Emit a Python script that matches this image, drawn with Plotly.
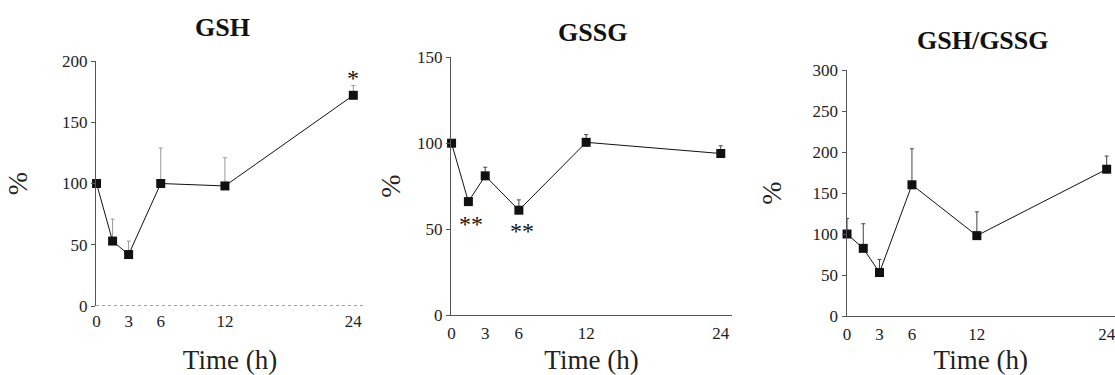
import plotly.graph_objects as go

time_h = [0, 1.5, 3, 6, 12, 24]
x_tick_labels = ["0", "3", "6", "12", "24"]
x_tick_vals = [0, 3, 6, 12, 24]

gsh = [100, 53, 42, 100, 98, 172]
gsh_err = [0, 18, 11, 29, 23, 8]
gssg = [100, 66, 81, 61, 100.5, 94]
gssg_err = [0, 2, 5, 6, 4.5, 4.5]
ratio = [100, 82.5, 53, 160, 98, 179]
ratio_err = [19, 30, 16, 44, 29, 16]

titles = ["GSH", "GSSG", "GSH/GSSG"]
y_ranges = [[0, 200], [0, 150], [0, 300]]
y_ticks = [[0, 50, 100, 150, 200], [0, 50, 100, 150], [0, 50, 100, 150, 200, 250, 300]]

# significance marks (x, y, text) per panel
sig_gsh = [(24, 186.5, "*")]
sig_gssg = [(1.7, 53, "**"), (6.3, 49, "**")]

W, H = 1115, 375
def px(x):
    return x / W
def py(y):
    return 1 - y / H

x_domains = [[px(96), px(364)], [px(451), px(732)], [px(846.5), 1.0]]
y_domains = [[py(306), py(61)], [py(315), py(57.3)], [py(316), py(70)]]
x_ranges = [[-0.05, 25], [-0.05, 25], [-0.05, 24.77]]
x_title_standoff = [20, 18, 14]
y_title_standoff = [26, 8, 22]

serif = "Liberation Serif, Times New Roman, serif"
fig = go.Figure()

series = [(gsh, gsh_err, "#999999"), (gssg, gssg_err, "#444444"), (ratio, ratio_err, "#444444")]
for i, (vals, errs, ecol) in enumerate(series):
    n = "" if i == 0 else str(i + 1)
    fig.add_trace(go.Scatter(
        x=time_h, y=vals, mode="lines+markers",
        xaxis="x" + n, yaxis="y" + n,
        line=dict(color="#111111", width=1),
        marker=dict(symbol="square", size=9, color="#111111"),
        error_y=dict(type="data", array=errs, symmetric=False,
                     arrayminus=[0] * len(errs), color=ecol, thickness=1, width=2),
        showlegend=False, cliponaxis=False,
    ))
    fig.layout["xaxis" + n] = dict(
        domain=x_domains[i], range=x_ranges[i], anchor="y" + n, automargin=False,
        tickvals=x_tick_vals, ticktext=x_tick_labels, ticks="",
        ticklabelstandoff=3, ticklabeloverflow="allow",
        showline=(i != 0), linecolor="#555555", linewidth=1,
        showgrid=False, zeroline=False,
        tickfont=dict(family=serif, size=17, color="#222222"),
        title=dict(text="Time (h)", font=dict(family=serif, size=27, color="#222222"),
                   standoff=x_title_standoff[i]),
    )
    fig.layout["yaxis" + n] = dict(
        domain=y_domains[i], range=y_ranges[i], anchor="x" + n, automargin=False,
        tickvals=y_ticks[i], ticks="outside", ticklen=4, tickcolor="#555555",
        showline=True, linecolor="#555555", linewidth=1,
        showgrid=False, zeroline=False,
        tickfont=dict(family=serif, size=17, color="#222222"),
        title=dict(text="%", font=dict(family=serif, size=28, color="#222222"),
                   standoff=y_title_standoff[i]),
    )

# dotted x-axis line for first panel
fig.add_shape(type="line", xref="x domain", yref="y", x0=0, x1=1, y0=0, y1=0,
              line=dict(color="#444444", width=1, dash="dot"))

title_pos = [(222, 28), (592, 32), (983, 40)]
for (tx, ty), t in zip(title_pos, titles):
    fig.add_annotation(text="<b>%s</b>" % t, x=px(tx), y=py(ty), xref="paper", yref="paper",
                       xanchor="center", yanchor="middle",
                       showarrow=False, font=dict(family=serif, size=26, color="#111111"))

for (sx, sy, st) in sig_gsh:
    fig.add_annotation(text=st, x=sx, y=sy, xref="x", yref="y", showarrow=False,
                       xanchor="center", yanchor="middle",
                       font=dict(family=serif, size=24, color="#111111"))
for (sx, sy, st) in sig_gssg:
    fig.add_annotation(text=st, x=sx, y=sy, xref="x2", yref="y2", showarrow=False,
                       xanchor="center", yanchor="middle",
                       font=dict(family=serif, size=24, color="#111111"))

fig.update_layout(width=W, height=H, margin=dict(l=0, r=0, t=0, b=0),
                  paper_bgcolor="white", plot_bgcolor="white")
fig.write_html("out.html", config={"displayModeBar": False},
               post_script="document.body.style.margin='0';document.body.style.overflow='hidden';")
